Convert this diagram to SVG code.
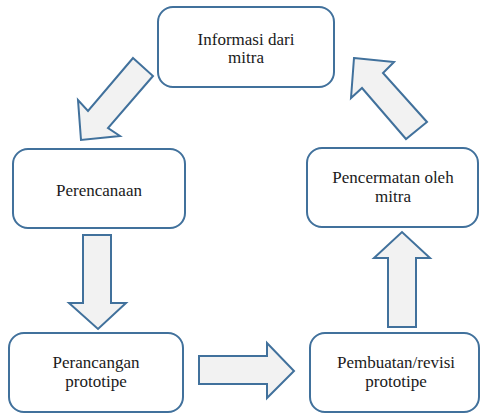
<svg xmlns="http://www.w3.org/2000/svg" width="480" height="416" viewBox="0 0 480 416">
<style>
.box{fill:#fff;stroke:#41719C;stroke-width:2}
.arr{fill:#F2F2F2;stroke:#41719C;stroke-width:2;stroke-linejoin:miter}
</style>
<rect width="480" height="416" fill="#fff"/>
<g id="connectors">
<polygon class="arr" points="133,58 153,76 108,128 120,136 81,140 78,100 88,111"/>
<polygon class="arr" points="83,235 111,235 111,303 126,303 98,329 69,303 83,303"/>
<polygon class="arr" points="199,356 267,356 267,343 294,371 267,398 267,384 199,384"/>
<polygon class="arr" points="388,327 416,327 416,258 430,258 402,232 374,258 388,258"/>
<polygon class="arr" points="354,58 394,62 383,73 427,122 406,139 362,88 351,98"/>
</g>
<g font-family="Liberation Serif, Times New Roman, serif" font-size="17" fill="#1a1a1a" text-anchor="middle">
<g id="n1"><rect class="box" x="158" y="7" width="176" height="80" rx="15"/><text x="246" y="45">Informasi dari</text><text x="246" y="63">mitra</text></g>
<g id="n2"><rect class="box" x="13" y="149" width="172" height="79" rx="15"/><text x="99" y="196">Perencanaan</text></g>
<g id="n3"><rect class="box" x="9" y="333" width="174" height="79" rx="15"/><text x="96" y="368">Perancangan</text><text x="96" y="387">prototipe</text></g>
<g id="n4"><rect class="box" x="310" y="333" width="169" height="79" rx="15"/><text x="396" y="368">Pembuatan/revisi</text><text x="396" y="387">prototipe</text></g>
<g id="n5"><rect class="box" x="307" y="148" width="171" height="79" rx="15"/><text x="393" y="183">Pencermatan oleh</text><text x="393" y="202">mitra</text></g>
</g>
</svg>
